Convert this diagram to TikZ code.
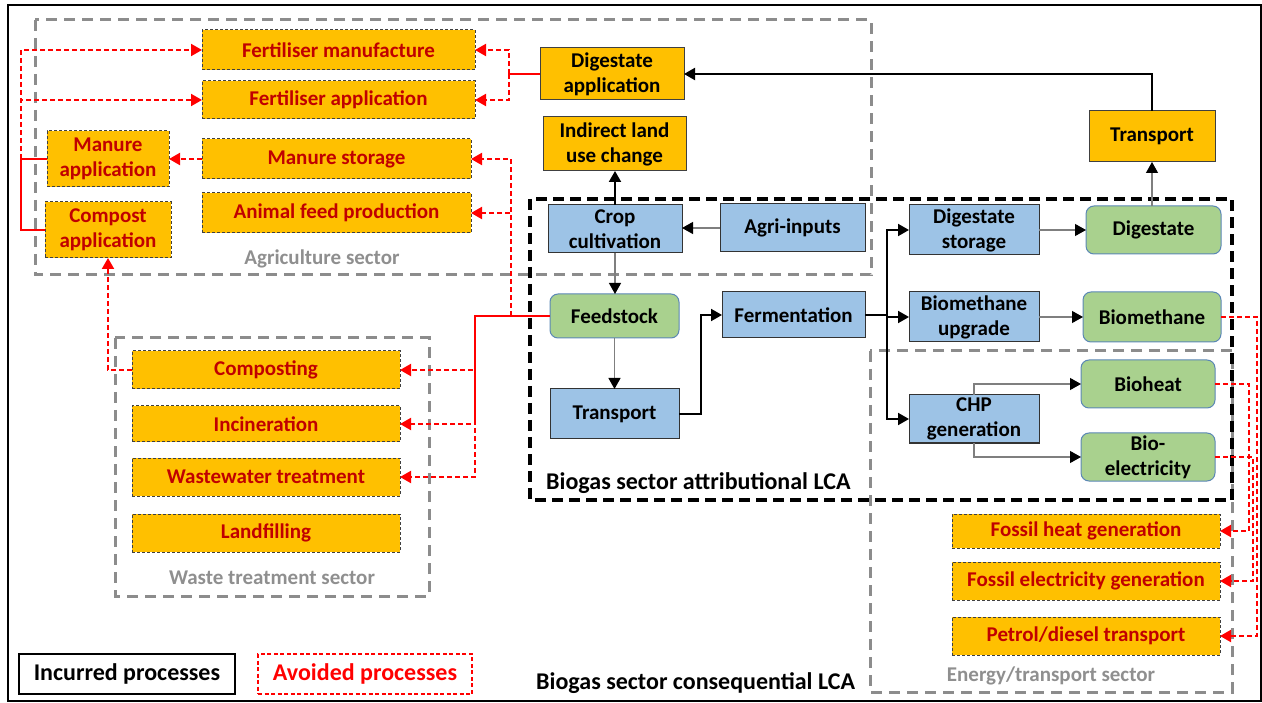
\documentclass[tikz,border=0pt]{standalone}
\usepackage{fontspec}
\setmainfont{Carlito}
\usetikzlibrary{arrows.meta}
\definecolor{orgc}{HTML}{FFC000}
\definecolor{redt}{HTML}{C00000}
\definecolor{bluec}{HTML}{9DC3E6}
\definecolor{greenc}{HTML}{A9D18E}
\definecolor{greenb}{HTML}{5B87B5}
\definecolor{secgray}{HTML}{8C8C8C}
\definecolor{lblgray}{HTML}{8F8F8F}
\definecolor{redl}{HTML}{FF0000}
\definecolor{gline}{HTML}{7F7F7F}
\begin{document}
\begin{tikzpicture}[x=1pt,y=-1pt,
  bx/.style={inner sep=0pt,outer sep=0pt,align=center,font=\fontsize{21}{25}\selectfont\bfseries,line width=1pt},
  avoided/.style={bx,fill=orgc,draw=black!75,dash pattern=on 3pt off 2pt,text=redt},
  incorg/.style={bx,fill=orgc,draw=black!75},
  bluebox/.style={bx,fill=bluec,draw=black!80},
  greenbox/.style={bx,fill=greenc,draw=greenb,rounded corners=8pt},
  secbox/.style={draw=secgray,line width=3pt,dash pattern=on 11pt off 7pt},
  attrbox/.style={draw=black,line width=3.5pt,dash pattern=on 11pt off 6pt},
  seclabel/.style={text=lblgray,font=\fontsize{21}{25}\selectfont\bfseries,inner sep=0pt},
  lcalabel/.style={text=black,font=\fontsize{24}{28}\selectfont\bfseries,inner sep=0pt,anchor=west},
  blk/.style={draw=black,line width=2pt},
  gry/.style={draw=gline,line width=1.2pt},
  redsolid/.style={draw=redl,line width=2pt},
  reddash/.style={draw=redl,line width=2pt,dash pattern=on 5pt off 3pt},
  harr/.style={-{Triangle[length=11pt,width=12pt,color=black]}},
  rarr/.style={-{Triangle[length=11pt,width=12pt,color=redl]}}
]
\useasboundingbox (0,0) rectangle (1262,703);
\draw[black,line width=1.5pt] (8,5) rectangle (1261,701);

% sector boxes
\draw[secbox] (35,20) rectangle (871,275);
\draw[secbox] (115,338) rectangle (429,596);
\draw[secbox] (870,351) rectangle (1232,692);
\draw[attrbox] (530,199) rectangle (1232,500);

\node[seclabel] (lagri) at (322,259) {Agriculture sector};
\node[seclabel] (lwaste) at (272,578) {Waste treatment sector};
\node[seclabel] (lenergy) at (1051,676) {Energy/transport sector};
\node[lcalabel] (lattr) at (546,483) {Biogas sector attributional LCA};
\node[lcalabel] (lcons) at (536,683) {Biogas sector consequential LCA};

% agriculture
\node[avoided,minimum width=273pt,minimum height=40pt] (fman) at (338.5,50) {Fertiliser manufacture};
\node[avoided,minimum width=273pt,minimum height=38pt] (fapp) at (338.5,100) {Fertiliser application};
\node[avoided,minimum width=122pt,minimum height=56pt] (mapp) at (108,159) {Manure\\application};
\node[avoided,minimum width=269pt,minimum height=40pt] (mst) at (336.5,159) {Manure storage};
\node[avoided,minimum width=269pt,minimum height=40pt] (afp) at (336.5,213) {Animal feed production};
\node[avoided,minimum width=126pt,minimum height=56pt] (capp) at (108,230) {Compost\\application};

\node[incorg,minimum width=144pt,minimum height=52pt] (dapp) at (612,74) {Digestate\\application};
\node[incorg,minimum width=143pt,minimum height=54pt] (iluc) at (614.5,144) {Indirect land\\use change};
\node[incorg,minimum width=126pt,minimum height=51pt] (trt) at (1152,136.5) {Transport};

% biogas
\node[bluebox,minimum width=134pt,minimum height=48pt] (crop) at (615,229) {Crop\\cultivation};
\node[bluebox,minimum width=145pt,minimum height=48pt] (agri) at (792.5,228) {Agri-inputs};
\node[bluebox,minimum width=130pt,minimum height=50pt] (dst) at (974,230) {Digestate\\storage};
\node[greenbox,minimum width=135pt,minimum height=48pt] (dig) at (1153.5,230) {Digestate};
\node[greenbox,minimum width=129pt,minimum height=44pt] (feed) at (614.5,316) {Feedstock};
\node[bluebox,minimum width=143pt,minimum height=46pt] (ferm) at (793.5,315) {Fermentation};
\node[bluebox,minimum width=129pt,minimum height=50pt] (trb) at (614.5,414) {Transport};
\node[bluebox,minimum width=130pt,minimum height=50pt] (bup) at (974,317) {Biomethane\\upgrade};
\node[greenbox,minimum width=138pt,minimum height=50pt] (bmeth) at (1152,317) {Biomethane};
\node[bluebox,minimum width=130pt,minimum height=48pt] (chp) at (974,419) {CHP\\generation};
\node[greenbox,minimum width=134pt,minimum height=48pt] (bheat) at (1148,384) {Bioheat};
\node[greenbox,minimum width=134pt,minimum height=48pt] (bel) at (1148,457) {Bio-\\electricity};

% energy
\node[avoided,minimum width=268pt,minimum height=34pt] (fheat) at (1086,531) {Fossil heat generation};
\node[avoided,minimum width=268pt,minimum height=38pt] (felec) at (1086,581) {Fossil electricity generation};
\node[avoided,minimum width=268pt,minimum height=38pt] (petrol) at (1086,636) {Petrol/diesel transport};

% waste
\node[avoided,minimum width=268pt,minimum height=38pt] (comp) at (266,370) {Composting};
\node[avoided,minimum width=268pt,minimum height=36pt] (inc) at (266,424) {Incineration};
\node[avoided,minimum width=268pt,minimum height=38pt] (ww) at (266,477) {Wastewater treatment};
\node[avoided,minimum width=268pt,minimum height=38pt] (landf) at (266,533) {Landfilling};

% legend
\node[inner sep=0pt,draw=black,line width=1.5pt,minimum width=216pt,minimum height=40pt,font=\fontsize{24}{28}\selectfont\bfseries] (leginc) at (127,674) {Incurred processes};
\node[inner sep=0pt,draw=redl,line width=1.5pt,dash pattern=on 4pt off 2.5pt,minimum width=214pt,minimum height=40pt,text=redl,font=\fontsize{24}{28}\selectfont\bfseries] (legavo) at (365,674) {Avoided processes};

% black / gray connectors
\draw[blk,harr] (trt.north) |- (dapp.east);
\draw[gry,harr] (trt.south |- dig.north) -- (trt.south);
\draw[blk,harr] (crop.north) -- (crop.north |- iluc.south);
\draw[gry,harr] (agri.west) -- (agri.west -| crop.east);
\draw[gry,harr] (crop.south) -- (crop.south |- feed.north);
\draw[gry,harr] (feed.south) -- (feed.south |- trb.north);
\draw[blk,harr] (trb.east) -- ++(22,0) |- (ferm.west);
\coordinate (tk) at (887,315);
\draw[blk] (ferm.east) -- (tk);
\draw[blk,harr] (tk) |- (dst.west);
\draw[blk,harr] (tk) |- (bup.west);
\draw[blk,harr] (tk) |- (chp.west);
\draw[gry,harr] (dst.east) -- (dst.east -| dig.west);
\draw[gry,harr] (bup.east) -- (bup.east -| bmeth.west);
\draw[gry,harr] (chp.north) |- (bheat.west);
\draw[gry,harr] (chp.south) |- (bel.west);

% red connectors, agriculture
\coordinate (ja) at (509,74);
\draw[redsolid] (dapp.west) -- (ja);
\draw[reddash,rarr] (ja) |- (fman.east);
\draw[reddash,rarr] (ja) |- (fapp.east);
\coordinate (jb) at (21,159);
\draw[redsolid] (mapp.west) -- (jb);
\draw[redsolid] (capp.west) -| (jb);
\draw[reddash,rarr] (jb) |- (fman.west);
\draw[reddash,rarr] (jb) |- (fapp.west);
\draw[reddash,rarr] (mst.west) -- (mst.west -| mapp.east);

% red connectors, feedstock
\coordinate (jc) at (511,316);
\coordinate (jd) at (475,316);
\coordinate (je) at (475,424);
\draw[redsolid] (feed.west) -- (jd) -- (je);
\draw[reddash,rarr] (jc) |- (mst.east);
\draw[reddash,rarr] (jc) |- (afp.east);
\draw[reddash,rarr] (jd) |- (comp.east);
\draw[reddash,rarr] (jd) |- (inc.east);
\draw[reddash,rarr] (jd) |- (ww.east);
\draw[reddash,rarr] (comp.west) -| (capp.south);

% red connectors, energy
\coordinate (ra) at (1257,0);
\coordinate (rb) at (1249,0);
\coordinate (rc) at (1253,0);
\draw[reddash,rarr] (bmeth.east) -- (bmeth.east -| ra) |- (petrol.east);
\draw[reddash,rarr] (bheat.east) -- (bheat.east -| rb) |- (fheat.east);
\draw[reddash,rarr] (bel.east) -- (bel.east -| rc) |- (felec.east);
\end{tikzpicture}
\end{document}
